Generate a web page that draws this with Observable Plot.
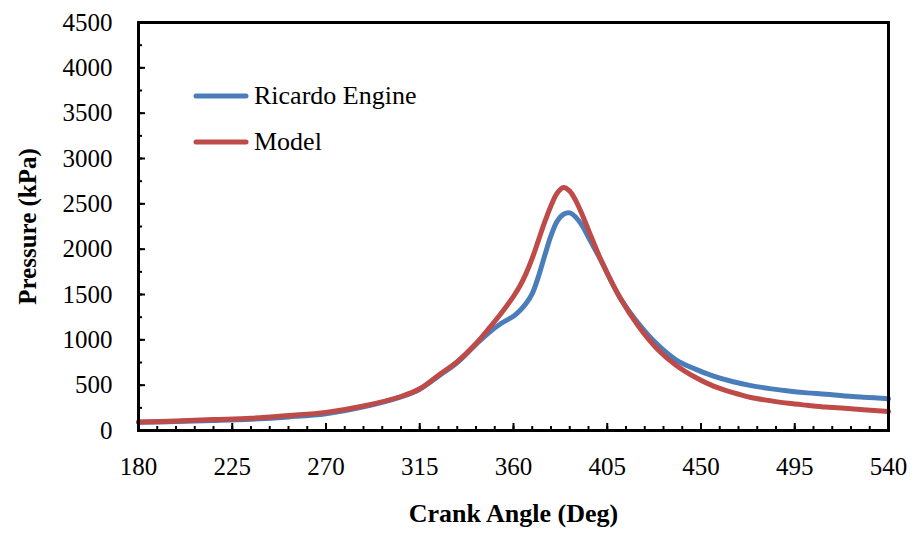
<!DOCTYPE html>
<html><head><meta charset="utf-8">
<script src="https://cdn.jsdelivr.net/npm/d3@7"></script>
<script src="https://cdn.jsdelivr.net/npm/@observablehq/plot@0.6"></script>
<style>
body{margin:0;background:#fff;}
#wrap{position:relative;width:914px;height:550px;font-family:"Liberation Serif","Times New Roman",serif;}
.leg{position:absolute;left:193px;display:flex;align-items:center;font-size:26px;color:#000;line-height:1;}
.leg svg{margin-right:5px;}
</style></head><body>
<div id="wrap"></div>
<script>
const angle   = [180,198,216,234,252,270,288,306,315,324,333,342,348,354,360,363,366,369,372,375,378,381,384,387,390,393,396,402,411,420,429,438,447,456,465,474,483,492,501,510,519,528,540];
const ricardo = [ 90, 98,110,125,150,185,260,370,455,600,750,950,1075,1180,1260,1320,1400,1510,1700,1930,2150,2310,2385,2400,2350,2260,2130,1875,1470,1180,950,780,680,600,540,495,462,435,415,400,380,368,350];
const model   = [ 95,105,120,135,165,200,270,375,460,610,760,960,1120,1290,1480,1590,1730,1900,2100,2300,2480,2620,2680,2640,2530,2380,2210,1880,1470,1150,900,720,590,490,420,364,330,300,278,258,245,230,210];
const seriesNames = ["Ricardo Engine", "Model"];
const seriesColors = ["#4A7EBB", "#BE4B48"];
const xTicks = [180,225,270,315,360,405,450,495,540];
const xMinor = d3.range(180, 541, 9);
const yTicks = [0,500,1000,1500,2000,2500,3000,3500,4000,4500];
const yMinor = d3.range(0, 4501, 250);
const xTitle = "Crank Angle (Deg)";
const yTitle = "Pressure (kPa)";

const data = [];
angle.forEach((a, i) => data.push({angle: a, p: ricardo[i], s: seriesNames[0]}));
angle.forEach((a, i) => data.push({angle: a, p: model[i], s: seriesNames[1]}));

const W = 914, H = 550, mL = 138, mR = 26, mT = 22, mB = 120;
const fw = W - mL - mR, fh = H - mT - mB;

const chart = Plot.plot({
  width: W, height: H,
  marginLeft: mL, marginRight: mR, marginTop: mT, marginBottom: mB,
  style: {fontFamily: '"Liberation Serif","Times New Roman",serif', fontSize: "25px", color: "#000", background: "#fff"},
  x: {domain: [180, 540]},
  y: {domain: [0, 4500]},
  color: {domain: seriesNames, range: seriesColors},
  marks: [
    Plot.line(data, {x: "angle", y: "p", z: "s", stroke: "s", strokeWidth: 5, curve: "catmull-rom"}),
    Plot.tickX(xMinor, {x: d => d, insetTop: fh - 4, stroke: "#000", strokeWidth: 2}),
    Plot.tickX(xTicks, {x: d => d, insetTop: fh - 7, stroke: "#000", strokeWidth: 2}),
    Plot.tickY(yMinor, {y: d => d, insetRight: fw - 4, stroke: "#000", strokeWidth: 2}),
    Plot.tickY(yTicks, {y: d => d, insetRight: fw - 7, stroke: "#000", strokeWidth: 2}),
    Plot.axisX(xTicks, {tickSize: 0, tickPadding: 27, tickFormat: d => String(d), label: null, fill: "#000"}),
    Plot.axisY(yTicks, {tickSize: 0, tickPadding: 26, tickFormat: d => String(d), label: null, fill: "#000"}),
    Plot.frame({stroke: "#000", strokeWidth: 3}),
    Plot.text([xTitle], {frameAnchor: "bottom", dy: 91, text: d => d, fontWeight: "bold", fontSize: 26, fill: "#000"}),
    Plot.text([yTitle], {frameAnchor: "left", dx: -111, rotate: -90, textAnchor: "middle", text: d => d, fontWeight: "bold", fontSize: 25, fill: "#000"})
  ]
});
const wrap = document.getElementById("wrap");
wrap.appendChild(chart);
seriesNames.forEach((name, i) => {
  const d = document.createElement("div");
  d.className = "leg";
  d.style.top = (i === 0 ? 81 : 127) + "px";
  d.innerHTML = `<svg width="56" height="30"><line x1="3" y1="15" x2="53" y2="15" stroke="${seriesColors[i]}" stroke-width="5" stroke-linecap="round"/></svg><span>${name}</span>`;
  wrap.appendChild(d);
});
</script>
</body></html>
